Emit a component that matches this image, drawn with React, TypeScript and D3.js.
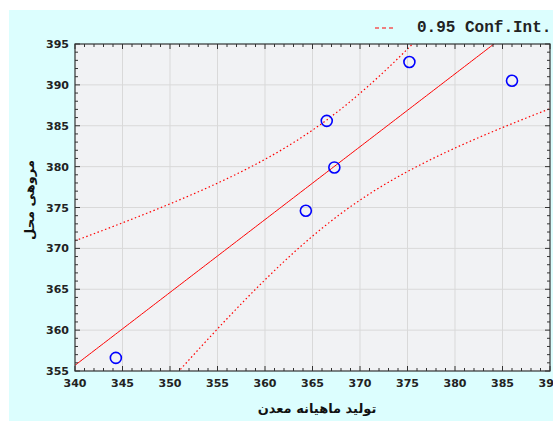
import React from "react";
import * as d3 from "d3";

const xValues = [344.3, 364.3, 366.5, 367.3, 375.2, 386.0];
const yValues = [356.6, 374.6, 385.6, 379.9, 392.8, 390.5];
const xTicks = [340, 345, 350, 355, 360, 365, 370, 375, 380, 385, 390];
const yTicks = [355, 360, 365, 370, 375, 380, 385, 390, 395];
const tCrit = 2.776; // t(0.975, df=4) for 0.95 confidence
const xTitle = "تولید ماهیانه معدن";
const yTitle = "مروهی محل";
const legendLabel = "0.95 Conf.Int.";

const W = 553, H = 421;
const L = 75, R = 550, T = 44, B = 371;

export default function App() {
  const x = d3.scaleLinear().domain([340, 390]).range([L, R]);
  const y = d3.scaleLinear().domain([355, 395]).range([B, T]);

  const n = xValues.length;
  const mx = d3.mean(xValues)!;
  const my = d3.mean(yValues)!;
  let sxx = 0, sxy = 0;
  xValues.forEach((xv, i) => { sxx += (xv - mx) ** 2; sxy += (xv - mx) * (yValues[i] - my); });
  const b = sxy / sxx;
  const a = my - b * mx;
  let sse = 0;
  xValues.forEach((xv, i) => { sse += (yValues[i] - (a + b * xv)) ** 2; });
  const s = Math.sqrt(sse / (n - 2));
  const grid = d3.range(340, 390.01, 0.25);
  const hw = (xv: number) => tCrit * s * Math.sqrt(1 / n + (xv - mx) ** 2 / sxx);
  const line = d3.line<[number, number]>().x(d => x(d[0])).y(d => y(d[1]));
  const fitPath = line(grid.map(v => [v, a + b * v]));
  const upPath = line(grid.map(v => [v, a + b * v + hw(v)]));
  const loPath = line(grid.map(v => [v, a + b * v - hw(v)]));

  const xMinor = d3.range(340, 390.01, 1);
  const yMinor = d3.range(355, 395.01, 1);
  const tickFont = "'DejaVu Sans', sans-serif";

  return (
    <svg width={W} height={H} style={{ position: "absolute", left: 0, top: 0 }}>
      <rect x={0} y={0} width={W} height={H} fill="#ffffff" />
      <rect x={9} y={10} width={W - 9} height={H - 10} fill="#dcfefe" />
      <defs>
        <clipPath id="plotClip">
          <rect x={L} y={T} width={R - L} height={B - T} />
        </clipPath>
      </defs>
      <rect x={L} y={T} width={R - L} height={B - T} fill="#f1f2f4" />
      {xTicks.slice(1, -1).map(t => (
        <line key={"gx" + t} x1={x(t)} x2={x(t)} y1={T} y2={B} stroke="#d9d9d9" strokeWidth={1} />
      ))}
      {yTicks.slice(1, -1).map(t => (
        <line key={"gy" + t} x1={L} x2={R} y1={y(t)} y2={y(t)} stroke="#d9d9d9" strokeWidth={1} />
      ))}
      <g clipPath="url(#plotClip)">
        <path d={fitPath!} fill="none" stroke="#ff0000" strokeWidth={1} />
        <path d={upPath!} fill="none" stroke="#ff0000" strokeWidth={1.2} strokeDasharray="1.5,2.5" />
        <path d={loPath!} fill="none" stroke="#ff0000" strokeWidth={1.2} strokeDasharray="1.5,2.5" />
      </g>
      {xValues.map((xv, i) => (
        <circle key={"p" + i} cx={x(xv)} cy={y(yValues[i])} r={5.5} fill="none" stroke="#0000ff" strokeWidth={1.6} />
      ))}
      {xMinor.map(t => {
        const len = t % 5 === 0 ? 5 : 3;
        return (
          <g key={"mx" + t}>
            <line x1={x(t)} x2={x(t)} y1={B} y2={B - len} stroke="#333" />
            <line x1={x(t)} x2={x(t)} y1={T} y2={T + len} stroke="#333" />
          </g>
        );
      })}
      {yMinor.map(t => {
        const len = t % 5 === 0 ? 5 : 3;
        return (
          <g key={"my" + t}>
            <line x1={L} x2={L + len} y1={y(t)} y2={y(t)} stroke="#333" />
            <line x1={R} x2={R - len} y1={y(t)} y2={y(t)} stroke="#333" />
          </g>
        );
      })}
      <rect x={L} y={T} width={R - L} height={B - T} fill="none" stroke="#333" strokeWidth={1.2} />
      {xTicks.map(t => (
        <text key={"xl" + t} x={x(t)} y={B + 16} textAnchor="middle" fontFamily={tickFont} fontSize={11} fill="#222" fontWeight="bold">{t}</text>
      ))}
      {yTicks.map(t => (
        <text key={"yl" + t} x={L - 6} y={y(t) + 4} textAnchor="end" fontFamily={tickFont} fontSize={11} fill="#222" fontWeight="bold">{t}</text>
      ))}
      <text x={317} y={413} textAnchor="middle" fontFamily="'DejaVu Sans', sans-serif" fontWeight="bold" fontSize={13} fill="#111" direction="rtl">{xTitle}</text>
      <text transform={`translate(34, 200) rotate(-90)`} textAnchor="middle" fontFamily="'DejaVu Sans', sans-serif" fontWeight="bold" fontSize={13} fill="#111" direction="rtl">{yTitle}</text>
      <line x1={375} x2={393} y1={28} y2={28} stroke="#ff0000" strokeWidth={1.2} strokeDasharray="4,3" />
      <text x={417} y={32} fontFamily="'Liberation Mono', monospace" fontWeight="bold" fontSize={16} fill="#222">{legendLabel}</text>
    </svg>
  );
}
